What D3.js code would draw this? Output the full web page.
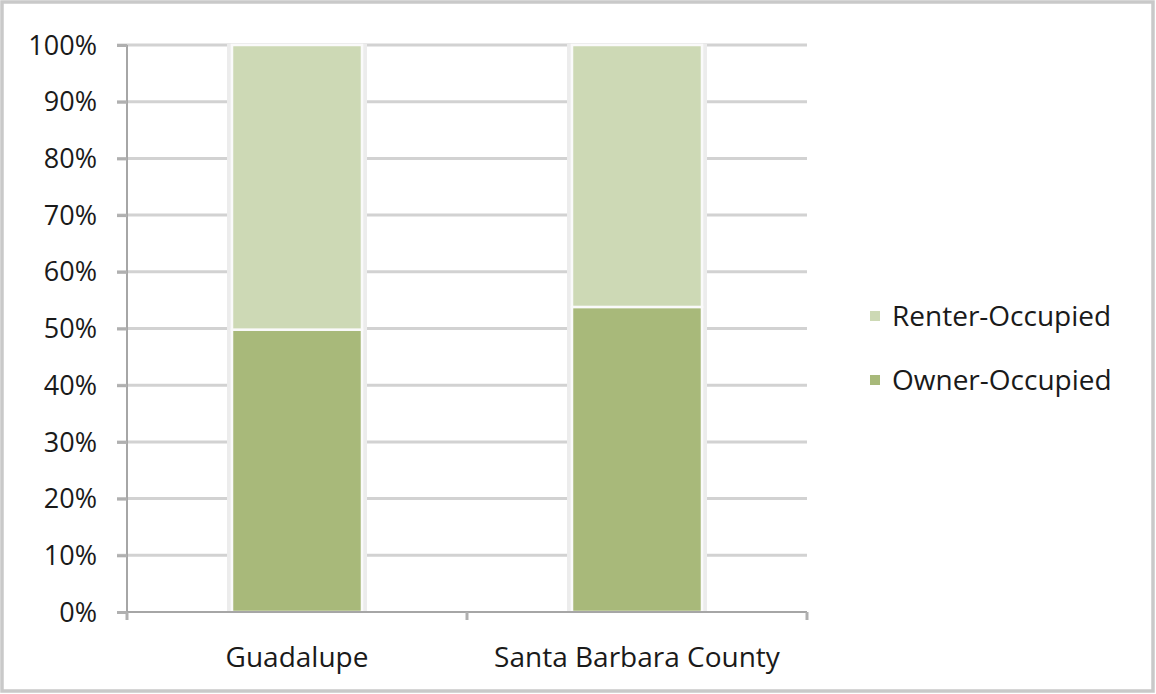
<!DOCTYPE html>
<html>
<head>
<meta charset="utf-8">
<script src="https://cdn.jsdelivr.net/npm/d3@7/dist/d3.min.js"></script>
<style>
  html, body { margin: 0; padding: 0; background: #fff; }
  svg { display: block; }
  text { font-family: "Open Sans", "DejaVu Sans", sans-serif; fill: #1a1a1a; }
</style>
</head>
<body>
<svg id="chart" width="1156" height="694"></svg>
<script>
// Housing tenure shares, in percent of occupied units
const categories = ["Guadalupe", "Santa Barbara County"];
const seriesNames = ["Owner-Occupied", "Renter-Occupied"];
const ownerOccupied = [49.8, 53.8];
const renterOccupied = [50.2, 46.2];
const yTicks = [0, 10, 20, 30, 40, 50, 60, 70, 80, 90, 100];

const colors = { "Owner-Occupied": "#a8b97a", "Renter-Occupied": "#cdd9b5" };

const svg = d3.select("#chart");
const W = 1156, H = 694;

// outer frame
svg.append("rect")
  .attr("x", 2).attr("y", 2).attr("width", W - 5).attr("height", H - 5)
  .attr("fill", "#fff").attr("stroke", "#c9c9c9").attr("stroke-width", 3.5);

const plot = { left: 127, right: 807, top: 45, bottom: 612 };

const x = d3.scaleBand().domain(categories)
  .range([plot.left, plot.right]).paddingInner(0).paddingOuter(0);
const barW = 130;

const y = d3.scaleLinear().domain([0, 100]).range([plot.bottom, plot.top]);

// gridlines
svg.append("g")
  .selectAll("line").data(yTicks.filter(d => d > 0)).join("line")
  .attr("x1", plot.left - 10).attr("x2", plot.right)
  .attr("y1", d => y(d)).attr("y2", d => y(d))
  .attr("stroke", "#d2d2d2").attr("stroke-width", 3);

// y axis
const yAxis = svg.append("g").attr("transform", `translate(${plot.left},0)`)
  .call(d3.axisLeft(y).tickValues(yTicks).tickFormat(d => d + "%").tickSize(10).tickPadding(20));
yAxis.select(".domain").attr("stroke", "#a6a6a6").attr("stroke-width", 2)
  .attr("d", `M0,${plot.top}V${plot.bottom}`);
yAxis.selectAll(".tick line").attr("stroke", "#b0b0b0").attr("stroke-width", 3);
yAxis.selectAll(".tick text").attr("font-size", 27).attr("fill", "#1a1a1a").attr("dy", "0.34em");

// stacked data
const rows = categories.map((c, i) => ({
  category: c,
  "Owner-Occupied": ownerOccupied[i],
  "Renter-Occupied": renterOccupied[i]
}));
const stacked = d3.stack().keys(seriesNames)(rows);

// soft edge behind each bar
svg.append("g").selectAll("rect").data(rows).join("rect")
  .attr("x", d => x(d.category) + (x.bandwidth() - barW) / 2 - 5)
  .attr("y", y(100) - 1)
  .attr("width", barW + 10)
  .attr("height", y(0) - y(100) + 1)
  .attr("fill", "#ececec");

svg.append("g").selectAll("g").data(stacked).join("g")
  .attr("fill", d => colors[d.key])
  .selectAll("rect").data(d => d).join("rect")
  .attr("x", d => x(d.data.category) + (x.bandwidth() - barW) / 2)
  .attr("y", d => y(d[1]))
  .attr("width", barW)
  .attr("height", d => y(d[0]) - y(d[1]))
  .attr("stroke", "#fafafa").attr("stroke-width", 2.5);

// x axis
const xAxis = svg.append("g").attr("transform", `translate(0,${plot.bottom})`);
xAxis.append("line")
  .attr("x1", plot.left).attr("x2", plot.right)
  .attr("stroke", "#a6a6a6").attr("stroke-width", 2);
const bounds = [plot.left, ...categories.map(c => x(c) + x.bandwidth())];
xAxis.selectAll(".sep").data(bounds).join("line").attr("class", "sep")
  .attr("x1", d => d).attr("x2", d => d).attr("y1", 0).attr("y2", 8)
  .attr("stroke", "#b0b0b0").attr("stroke-width", 3);
xAxis.selectAll("text").data(categories).join("text")
  .attr("x", d => x(d) + x.bandwidth() / 2)
  .attr("y", 55)
  .attr("text-anchor", "middle")
  .attr("font-size", 28)
  .text(d => d);

// legend
const legendItems = ["Renter-Occupied", "Owner-Occupied"];
const legend = svg.append("g").attr("transform", "translate(870,316)");
const li = legend.selectAll("g").data(legendItems).join("g")
  .attr("transform", (d, i) => `translate(0,${i * 64})`);
li.append("rect").attr("x", 0).attr("y", -5).attr("width", 10).attr("height", 10)
  .attr("fill", d => colors[d]);
li.append("text").attr("x", 22).attr("y", 0).attr("dy", "0.35em")
  .attr("font-size", 28).text(d => d);
</script>
</body>
</html>
